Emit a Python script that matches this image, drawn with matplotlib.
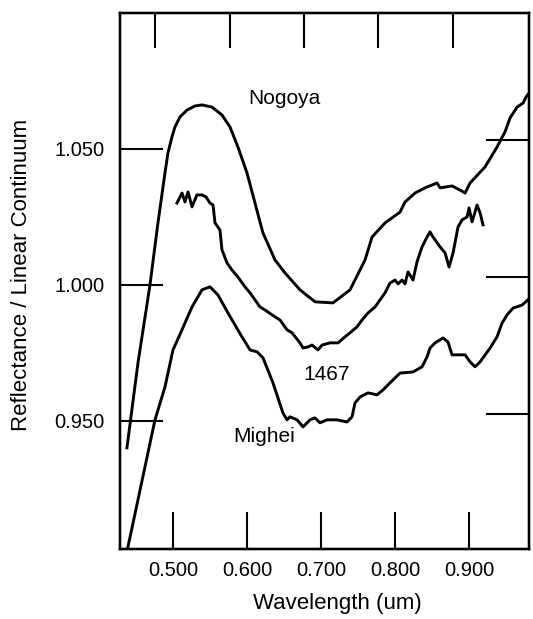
import matplotlib
matplotlib.use("Agg")
import matplotlib.pyplot as plt

plt.rcParams['font.family'] = ['Liberation Sans', 'DejaVu Sans']

# ---- data ----
nogoya_w = [0.4378, 0.4527, 0.4689, 0.4797, 0.4892, 0.4932, 0.4986, 0.5027, 0.5095, 0.5189,
            0.5297, 0.5392, 0.5527, 0.5662, 0.5770, 0.5878, 0.6000, 0.6108, 0.6216, 0.6378,
            0.6514, 0.6716, 0.6919, 0.7162, 0.7392, 0.7595, 0.7689, 0.7865, 0.8068, 0.8135,
            0.8270, 0.8405, 0.8568, 0.8608, 0.8770, 0.8878, 0.8946, 0.9014, 0.9216, 0.9378,
            0.9486, 0.9554, 0.9649, 0.9730, 0.9770, 0.9824]
nogoya_r = [0.9401, 0.9713, 1.0000, 1.0228, 1.0412, 1.0485, 1.0544, 1.0581, 1.0618, 1.0643,
            1.0658, 1.0662, 1.0654, 1.0625, 1.0581, 1.0507, 1.0412, 1.0301, 1.0191, 1.0092,
            1.0044, 0.9982, 0.9938, 0.9934, 0.9982, 1.0092, 1.0176, 1.0228, 1.0268, 1.0305,
            1.0338, 1.0357, 1.0375, 1.0357, 1.0364, 1.0349, 1.0338, 1.0375, 1.0434, 1.0507,
            1.0563, 1.0614, 1.0654, 1.0669, 1.0691, 1.0710]

m1467_w = [0.5054, 0.5122, 0.5162, 0.5203, 0.5257, 0.5324, 0.5392, 0.5446, 0.5500, 0.5541,
           0.5568, 0.5635, 0.5662, 0.5730, 0.5797, 0.5878, 0.5973, 0.6041, 0.6108, 0.6176,
           0.6243, 0.6338, 0.6446, 0.6541, 0.6608, 0.6716, 0.6757, 0.6824, 0.6878, 0.6959,
           0.7014, 0.7122, 0.7230, 0.7324, 0.7392, 0.7486, 0.7554, 0.7635, 0.7730, 0.7797,
           0.7865, 0.7932, 0.8000, 0.8041, 0.8095, 0.8135, 0.8176, 0.8243, 0.8297, 0.8365,
           0.8432, 0.8473, 0.8514, 0.8608, 0.8676, 0.8730, 0.8784, 0.8851, 0.8905, 0.8973,
           0.9000, 0.9041, 0.9081, 0.9108, 0.9149, 0.9189]
m1467_r = [1.0301, 1.0338, 1.0305, 1.0342, 1.0287, 1.0331, 1.0331, 1.0324, 1.0301, 1.0294,
           1.0228, 1.0202, 1.0129, 1.0081, 1.0055, 1.0029, 0.9993, 0.9971, 0.9945, 0.9919,
           0.9908, 0.9890, 0.9871, 0.9835, 0.9824, 0.9787, 0.9768, 0.9772, 0.9779, 0.9761,
           0.9779, 0.9787, 0.9787, 0.9809, 0.9824, 0.9846, 0.9871, 0.9897, 0.9919, 0.9945,
           0.9971, 1.0007, 1.0018, 1.0004, 1.0018, 1.0004, 1.0048, 1.0018, 1.0085, 1.0140,
           1.0176, 1.0195, 1.0176, 1.0140, 1.0118, 1.0066, 1.0118, 1.0213, 1.0239, 1.0250,
           1.0283, 1.0232, 1.0268, 1.0294, 1.0265, 1.0221]

mighei_w = [0.4392, 0.4757, 0.4892, 0.5000, 0.5122, 0.5257, 0.5392, 0.5500, 0.5608, 0.5743,
            0.5932, 0.6041, 0.6135, 0.6216, 0.6351, 0.6486, 0.6541, 0.6581, 0.6676, 0.6757,
            0.6851, 0.6919, 0.6986, 0.7081, 0.7216, 0.7351, 0.7419, 0.7459, 0.7527, 0.7635,
            0.7757, 0.7838, 0.7932, 0.8068, 0.8243, 0.8365, 0.8432, 0.8473, 0.8541, 0.8649,
            0.8716, 0.8770, 0.8838, 0.8946, 0.9014, 0.9081, 0.9149, 0.9284, 0.9378, 0.9446,
            0.9514, 0.9595, 0.9716, 0.9824]
mighei_r = [0.9037, 0.9504, 0.9625, 0.9761, 0.9835, 0.9919, 0.9982, 0.9993, 0.9963, 0.9897,
            0.9809, 0.9761, 0.9754, 0.9732, 0.9640, 0.9529, 0.9504, 0.9515, 0.9504, 0.9478,
            0.9504, 0.9511, 0.9493, 0.9504, 0.9504, 0.9496, 0.9515, 0.9566, 0.9588, 0.9603,
            0.9596, 0.9614, 0.9640, 0.9676, 0.9680, 0.9699, 0.9735, 0.9768, 0.9787, 0.9805,
            0.9790, 0.9743, 0.9743, 0.9743, 0.9717, 0.9699, 0.9717, 0.9768, 0.9809, 0.9860,
            0.9890, 0.9915, 0.9926, 0.9952]

xticks_bottom = [0.5, 0.6, 0.7, 0.8, 0.9]
xticklabels_bottom = ['0.500', '0.600', '0.700', '0.800', '0.900']
xticks_top = [0.476, 0.577, 0.677, 0.777, 0.878]
yticks_left = [0.95, 1.00, 1.05]
yticklabels_left = ['0.950', '1.000', '1.050']
yticks_right = [0.9526, 1.0029, 1.0533]

labels = ['Nogoya', '1467', 'Mighei']
label_w = [0.650, 0.708, 0.623]
label_r = [1.0684, 0.9669, 0.9441]

# ---- figure ----
fig = plt.figure(figsize=(5.33, 6.19), dpi=100)
ax = fig.add_axes([0.2251, 0.1131, 0.7674, 0.8659])

lw = 2.1
ax.plot(nogoya_w, nogoya_r, color='black', lw=lw, solid_joinstyle='round')
ax.plot(m1467_w, m1467_r, color='black', lw=lw, solid_joinstyle='round')
ax.plot(mighei_w, mighei_r, color='black', lw=lw, solid_joinstyle='round')

xlim = (0.4284, 0.981)
ylim = (0.9029, 1.100)
ax.set_xlim(*xlim)
ax.set_ylim(*ylim)

for s in ax.spines.values():
    s.set_linewidth(1.6)

ax.set_xticks(xticks_bottom)
ax.set_xticklabels(xticklabels_bottom)
ax.set_yticks(yticks_left)
ax.set_yticklabels(yticklabels_left)
ax.tick_params(axis='x', direction='in', length=26.5, width=1.5, pad=9,
               labelsize=14.5, top=False)
ax.tick_params(axis='y', direction='in', length=31, width=1.5, pad=11,
               labelsize=14.5, right=False)

axt = ax.twiny()
axt.set_xlim(*xlim)
axt.set_xticks(xticks_top)
axt.tick_params(axis='x', direction='in', length=25, width=1.5,
                labeltop=False, top=True, bottom=False)
axr = ax.twinx()
axr.set_ylim(*ylim)
axr.set_yticks(yticks_right)
axr.tick_params(axis='y', direction='in', length=31, width=1.5,
                labelright=False, right=True, left=False)
for a in (axt, axr):
    for s in a.spines.values():
        s.set_linewidth(1.6)

for t, w, r in zip(labels, label_w, label_r):
    ax.text(w, r, t, ha='center', va='center', fontsize=15)

fig.text(337 / 533, 1 - 603 / 619, 'Wavelength (um)', ha='center', va='center', fontsize=16)
fig.text(22 / 533, 1 - 275 / 619, 'Reflectance / Linear Continuum', ha='center', va='center',
         rotation=90, fontsize=16)

fig.savefig('out.png', dpi=100)
